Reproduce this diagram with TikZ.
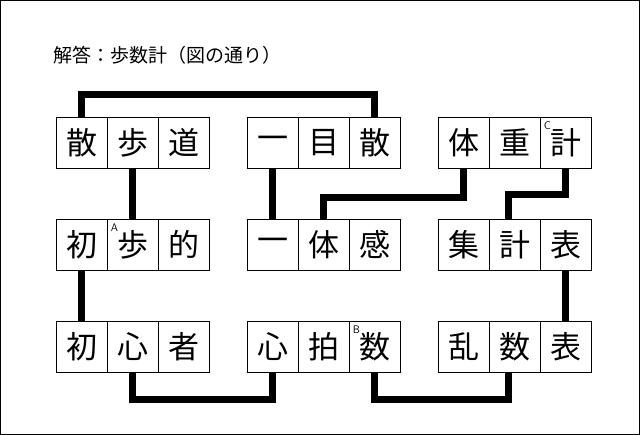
\documentclass[tikz,border=0pt]{standalone}
\usepackage{fontspec}
\newfontfamily\jp{Noto Sans CJK JP}
\usetikzlibrary{positioning}
\begin{document}
\begin{tikzpicture}[x=1pt,y=-1pt]
	\tikzset{
		cell/.style={
			draw,
			line width=0.8pt,
			minimum size=51pt,
			inner sep=0pt,
			font=\jp\fontsize{31}{31}\selectfont
		},
		link/.style={line width=7pt},
		letter/.style={font=\sffamily\fontsize{11}{11}\selectfont, inner sep=0pt}
	}
	\useasboundingbox (0,0) rectangle (640,435);
	\draw[line width=1pt] (0.5,0.5) rectangle (639.5,434.5);

	\node[anchor=west, font=\jp\fontsize{19}{19}\selectfont] (title) at (50,55) {解答：歩数計（図の通り）};

	% rows of cells
	\foreach \row/\y in {1/142.5, 2/244.5, 3/346.5} {
		\foreach \grp/\x in {1/81.5, 2/272.5, 3/463.5} {
			\foreach \k in {0,1,2} {
				\coordinate (p\row\grp\k) at (\x+51*\k,\y);
			}
		}
	}
	\node[cell] (a1) at (p110) {散};
	\node[cell] (a2) at (p111) {歩};
	\node[cell] (a3) at (p112) {道};
	\node[cell] (b1) at (p120) {一};
	\node[cell] (b2) at (p121) {目};
	\node[cell] (b3) at (p122) {散};
	\node[cell] (c1) at (p130) {体};
	\node[cell] (c2) at (p131) {重};
	\node[cell] (c3) at (p132) {計};
	\node[cell] (d1) at (p210) {初};
	\node[cell] (d2) at (p211) {歩};
	\node[cell] (d3) at (p212) {的};
	\node[cell] (e1) at (p220) {一};
	\node[cell] (e2) at (p221) {体};
	\node[cell] (e3) at (p222) {感};
	\node[cell] (f1) at (p230) {集};
	\node[cell] (f2) at (p231) {計};
	\node[cell] (f3) at (p232) {表};
	\node[cell] (g1) at (p310) {初};
	\node[cell] (g2) at (p311) {心};
	\node[cell] (g3) at (p312) {者};
	\node[cell] (h1) at (p320) {心};
	\node[cell] (h2) at (p321) {拍};
	\node[cell] (h3) at (p322) {数};
	\node[cell] (i1) at (p330) {乱};
	\node[cell] (i2) at (p331) {数};
	\node[cell] (i3) at (p332) {表};

	\node[letter, anchor=north west] (mA) at ([shift={(4,5)}]d2.north west) {A};
	\node[letter, anchor=north west] (mB) at ([shift={(4,5)}]h3.north west) {B};
	\node[letter, anchor=north west] (mC) at ([shift={(4,5)}]c3.north west) {C};

	\coordinate (top) at (0,95);
	\coordinate (bot) at (0,400);
	\coordinate (mid1) at (0,198);
	\coordinate (mid2) at (0,195);

	\draw[link] (a1.north) -- (a1.north |- top) -- (b3.north |- top) -- (b3.north);
	\draw[link] (a2.south) -- (d2.north);
	\draw[link] (d1.south) -- (g1.north);
	\draw[link] (g2.south) -- (g2.south |- bot) -- (h1.south |- bot) -- (h1.south);
	\draw[link] (b1.south) -- (e1.north);
	\draw[link] (e2.north) -- (e2.north |- mid1) -- (c1.south |- mid1) -- (c1.south);
	\draw[link] (c3.south) -- (c3.south |- mid2) -- ([xshift=-6pt]f2.north |- mid2) -- ([xshift=-6pt]f2.north);
	\draw[link] (f3.south) -- (i3.north);
	\draw[link] (h3.south) -- (h3.south |- bot) -- ([xshift=-6pt]i2.south |- bot) -- ([xshift=-6pt]i2.south);
\end{tikzpicture}
\end{document}
